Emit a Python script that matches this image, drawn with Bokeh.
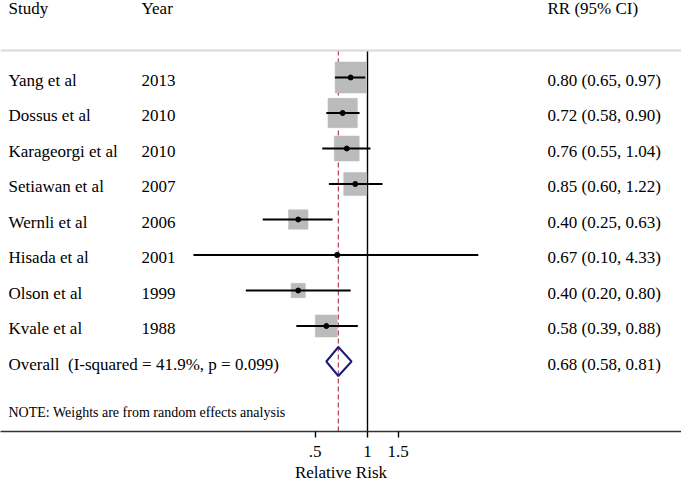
import math
from bokeh.plotting import figure
from bokeh.models import Range1d, FixedTicker, CustomJSTickFormatter, Span
from bokeh.core.properties import value
from bokeh.embed import file_html
from bokeh.resources import INLINE

# ---------------- data ----------------
studies = ["Yang et al", "Dossus et al", "Karageorgi et al", "Setiawan et al",
           "Wernli et al", "Hisada et al", "Olson et al", "Kvale et al"]
years = ["2013", "2010", "2010", "2007", "2006", "2001", "1999", "1988"]
rr = [0.80, 0.72, 0.76, 0.85, 0.40, 0.67, 0.40, 0.58]
ci_low = [0.65, 0.58, 0.55, 0.60, 0.25, 0.10, 0.20, 0.39]
ci_high = [0.97, 0.90, 1.04, 1.22, 0.63, 4.33, 0.80, 0.88]
weights = [23.6, 21.2, 15.3, 13.0, 9.3, 0.6, 5.0, 11.9]
overall_label = "Overall\u00a0 (I-squared = 41.9%, p = 0.099)"
overall_rr = 0.68
overall_low = 0.58
overall_high = 0.81
headers = ["Study", "Year", "RR (95% CI)"]
note = "NOTE: Weights are from random effects analysis"
x_ticks = [0.5, 1, 1.5]
x_title = "Relative Risk"
null_rr = 1.0

# ---------------- layout ----------------
W, H = 681, 484
PX_PER_LN = 75.6      # pixels per unit of ln(RR)
NULL_PX = 367         # frame x pixel of RR = 1
ROW0_PX = 77          # frame y pixel (from top) of first row
ROW_STEP = 35.5
FRAME_H = 431


def xd(px):
    return math.exp((px - NULL_PX) / PX_PER_LN)


def yd(px):
    return (px - ROW0_PX) / ROW_STEP


FONT_NAME = "Liberation Serif"
FONT = value(FONT_NAME)
n = len(studies)
rows = list(range(n))
overall_row = n
text_off = 2.5 / ROW_STEP

p = figure(width=W, height=H, x_axis_type="log",
           x_range=Range1d(xd(0), xd(W)),
           y_range=Range1d(yd(FRAME_H), yd(0)),
           output_backend="svg", toolbar_location=None,
           y_axis_location=None, min_border=0)
p.outline_line_color = None
p.grid.visible = False
p.background_fill_color = "white"
p.border_fill_color = "white"

top_y = yd(50)
bottom_y = yd(FRAME_H)

# header separator line
p.add_layout(Span(location=top_y, dimension="width", line_color="#d9d9d9", line_width=2))

# null line and overall dashed line
p.segment(x0=[null_rr], y0=[top_y], x1=[null_rr], y1=[bottom_y],
          line_color="black", line_width=1.4)
p.segment(x0=[overall_rr], y0=[top_y], x1=[overall_rr], y1=[bottom_y],
          line_color="#b04050", line_width=1.2, line_dash="5 3")

# weight boxes
box_sizes = [6.38 * math.sqrt(w) for w in weights]
p.scatter(x=rr, y=rows, size=box_sizes, marker="square",
          fill_color="#bbbbbb", line_color="#bbbbbb", line_width=0.5)

# confidence intervals
p.segment(x0=ci_low, y0=rows, x1=ci_high, y1=rows, line_color="black", line_width=2)
p.scatter(x=rr, y=rows, size=5, marker="circle", fill_color="black", line_color="black")

# overall diamond
dh = 14.5 / ROW_STEP
p.patch(x=[overall_low, overall_rr, overall_high, overall_rr],
        y=[overall_row, overall_row - dh, overall_row, overall_row + dh],
        fill_alpha=0, line_color="#1c1c78", line_width=2)

# text columns
txt = dict(text_font=FONT, text_font_size="17px", text_color="black",
           text_baseline="alphabetic", text_align="left")
ty = [r + text_off for r in rows]
p.text(x=[xd(8)] * n, y=ty, text=studies, **txt)
p.text(x=[xd(141)] * n, y=ty, text=years, **txt)
rr_text = [f"{a:.2f} ({b:.2f}, {c:.2f})" for a, b, c in zip(rr, ci_low, ci_high)]
p.text(x=[xd(547)] * n, y=ty, text=rr_text, **txt)
p.text(x=[xd(8)], y=[overall_row + text_off], text=[overall_label], **txt)
p.text(x=[xd(547)], y=[overall_row + text_off],
       text=[f"{overall_rr:.2f} ({overall_low:.2f}, {overall_high:.2f})"], **txt)
hy = yd(8)
p.text(x=[xd(8), xd(141), xd(547)], y=[hy] * 3, text=headers, **txt)

# note
p.text(x=[xd(8)], y=[yd(411.5)], text=[note], text_font=FONT, text_font_size="14px",
       text_color="black", text_baseline="alphabetic", text_align="left")

# x axis
ax = p.xaxis[0]
ax.ticker = FixedTicker(ticks=x_ticks)
ax.formatter = CustomJSTickFormatter(
    code="return tick < 1 ? String(tick).replace(/^0/, '') : String(tick);")
ax.axis_label = x_title
ax.axis_label_text_font = FONT_NAME
ax.axis_label_text_font_size = "17px"
ax.axis_label_text_font_style = "normal"
ax.axis_label_text_color = "black"
ax.axis_label_standoff = 3
ax.major_label_text_font = FONT_NAME
ax.major_label_text_font_size = "17px"
ax.major_label_text_color = "black"
ax.major_label_standoff = 8
ax.axis_line_color = "#333333"
ax.axis_line_width = 1.6
ax.major_tick_in = 0
ax.major_tick_out = 6
ax.major_tick_line_color = "black"
ax.major_tick_line_width = 1.4
ax.minor_tick_line_color = None

open("out.html", "w").write(file_html(p, INLINE))
